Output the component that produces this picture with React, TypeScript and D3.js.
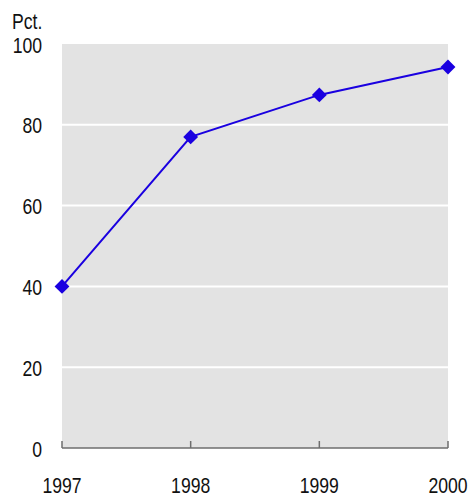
import React, { useEffect, useRef } from 'react';
import * as d3 from 'd3';

const years = ['1997', '1998', '1999', '2000'];
const values = [40, 77, 87.4, 94.3];
const yTicks = [0, 20, 40, 60, 80, 100];

const App: React.FC = () => {
  const svgRef = useRef<SVGSVGElement>(null);

  useEffect(() => {
    if (!svgRef.current) return;
    const svg = d3.select(svgRef.current);
    svg.selectAll('*').remove();

    const font = "'Liberation Sans Narrow', 'Arial Narrow', 'Liberation Sans', sans-serif";
    const fontSize = 22;
    const squeeze = 0.8; // narrow look
    const left = 62, right = 448, top = 44, bottom = 448;

    const x = d3.scalePoint<string>().domain(years).range([left, right]);
    const y = d3.scaleLinear().domain([0, 100]).range([bottom, top]);

    // plot background
    svg.append('rect')
      .attr('x', left).attr('y', top)
      .attr('width', right - left).attr('height', bottom - top)
      .attr('fill', '#e3e3e3');

    // gridlines
    svg.selectAll('line.grid')
      .data(yTicks.filter(t => t > 0 && t < 100))
      .enter().append('line')
      .attr('x1', left).attr('x2', right)
      .attr('y1', d => y(d)).attr('y2', d => y(d))
      .attr('stroke', '#fff').attr('stroke-width', 2);

    // x axis line + ticks
    svg.append('line')
      .attr('x1', left).attr('x2', right)
      .attr('y1', bottom).attr('y2', bottom)
      .attr('stroke', '#6e6e6e').attr('stroke-width', 1.5);
    svg.selectAll('line.xtick')
      .data(years).enter().append('line')
      .attr('x1', d => x(d)!).attr('x2', d => x(d)!)
      .attr('y1', bottom).attr('y2', bottom - 7)
      .attr('stroke', '#6e6e6e').attr('stroke-width', 1.5);

    // y labels
    svg.selectAll('text.ylab')
      .data(yTicks).enter().append('text')
      .attr('transform', d => `translate(42,${y(d) + 8.5}) scale(${squeeze},1)`)
      .attr('text-anchor', 'end')
      .attr('font-family', font).attr('font-size', fontSize)
      .attr('fill', '#111')
      .text(d => d);

    // x labels
    svg.selectAll('text.xlab')
      .data(years).enter().append('text')
      .attr('transform', d => `translate(${x(d)},492.5) scale(${squeeze},1)`)
      .attr('text-anchor', 'middle')
      .attr('font-family', font).attr('font-size', fontSize)
      .attr('fill', '#111')
      .text(d => d);

    svg.append('text')
      .attr('transform', `translate(12,29) scale(${squeeze},1)`)
      .attr('font-family', font).attr('font-size', fontSize)
      .attr('fill', '#111')
      .text('Pct.');

    // series
    const line = d3.line<number>()
      .x((_, i) => x(years[i])!)
      .y(d => y(d));
    svg.append('path')
      .datum(values)
      .attr('d', line)
      .attr('fill', 'none')
      .attr('stroke', '#1a00e0')
      .attr('stroke-width', 2);

    const diamond = d3.symbol().type(d3.symbolSquare).size(110);
    svg.selectAll('path.marker')
      .data(values).enter().append('path')
      .attr('d', diamond)
      .attr('transform', (d, i) => `translate(${x(years[i])},${y(d)}) rotate(45)`)
      .attr('fill', '#1a00e0');
  }, []);

  return (
    <div style={{ position: 'absolute', left: 0, top: 0 }}>
      <svg ref={svgRef} width={469} height={497} />
    </div>
  );
};

export default App;
